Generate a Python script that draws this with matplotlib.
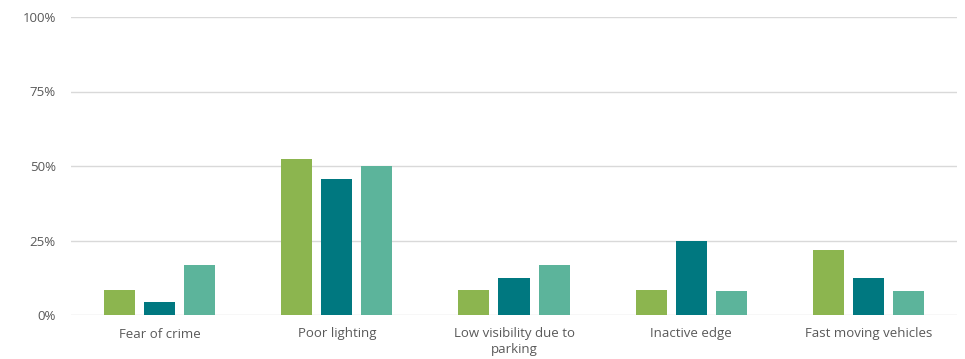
import matplotlib
matplotlib.use("Agg")
import matplotlib.pyplot as plt
import numpy as np
from matplotlib.ticker import FuncFormatter

categories = ["Fear of crime", "Poor lighting", "Low visibility due to\nparking", "Inactive edge", "Fast moving vehicles"]
series_a = [8.3, 52.2, 8.3, 8.3, 21.7]
series_b = [4.2, 45.8, 12.5, 25.0, 12.5]
series_c = [16.7, 50.0, 16.7, 8.0, 8.0]
colors = ["#8cb54f", "#007880", "#5cb49b"]
yticks = [0, 25, 50, 75, 100]

plt.rcParams['font.family'] = ['Open Sans', 'DejaVu Sans']
fig = plt.figure(figsize=(9.65, 3.59), dpi=100)
ax = fig.add_axes([71/965, 1-315/359, (957-71)/965, (315-17)/359])

x = np.arange(len(categories))
w = 0.175
step = 0.226
for i, (vals, c) in enumerate(zip([series_a, series_b, series_c], colors)):
    ax.bar(x + (i-1)*step, vals, width=w, color=c, zorder=3)

ax.set_xlim(-0.5, len(categories)-0.5)
ax.set_ylim(0, 100)
ax.set_yticks(yticks)
ax.yaxis.set_major_formatter(FuncFormatter(lambda v, p: f"{int(v)}%"))
ax.set_xticks(x)
ax.set_xticklabels(categories, linespacing=1.25)
ax.grid(axis='y', color='#d9d9d9', linewidth=1.0, zorder=0)
for s in ax.spines.values():
    s.set_visible(False)
ax.tick_params(axis='both', length=0, labelsize=9.5, colors='#595959')
ax.tick_params(axis='y', pad=11)
ax.tick_params(axis='x', pad=9)
fig.savefig("out.png", dpi=100, facecolor="white")
